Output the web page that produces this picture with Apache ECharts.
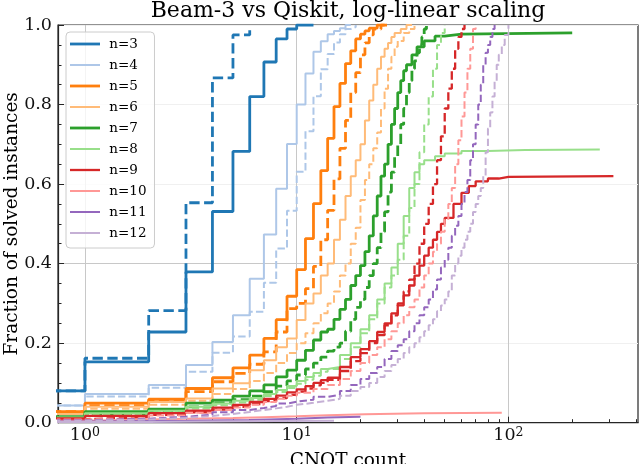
<!DOCTYPE html>
<html>
<head>
<meta charset="utf-8">
<title>Beam-3 vs Qiskit, log-linear scaling</title>
<script src="https://cdn.jsdelivr.net/npm/echarts@6.0.0/dist/echarts.min.js"></script>
<style>
  html, body { margin: 0; padding: 0; background: #fff; }
  #chart { width: 640px; height: 464px; }
</style>
</head>
<body>
<div id="chart"></div>
<script>
// qubit counts, one solid (Beam-3) and one dashed (Qiskit) curve each
var qubits = [3, 4, 5, 6, 7, 8, 9, 10, 11, 12];

// [CNOT count, fraction solved], step after each point
var b3 = [[0.5,0.08],[1,0.153],[2,0.228],[3,0.379],[4,0.531],[5,0.682],[6,0.82],[7,0.907],[8,0.965],[9,0.99],[10,1],[12,1]];
var q3 = [[0.5,0.08],[1,0.162],[2,0.282],[3,0.553],[4,0.867],[5,0.975],[6,0.99]];

var b4 = [[0.5,0.043],[1,0.072],[2,0.095],[3,0.145],[4,0.203],[5,0.27],[6,0.362],[7,0.473],[8,0.588],[9,0.701],[10,0.8],[11,0.878],[12,0.933],[13,0.959],[14,0.977],[15,0.985],[16,0.992],[17,1],[18,1]];
var q4 = [[0.5,0.043],[1,0.066],[2,0.088],[3,0.128],[4,0.176],[5,0.217],[6,0.279],[7,0.352],[8,0.438],[9,0.533],[10,0.631],[11,0.733],[12,0.821],[13,0.889],[14,0.927],[15,0.956],[16,0.977],[17,0.99],[18,0.995],[19,1]];

var b5 = [[0.5,0.028],[1,0.049],[2,0.059],[3,0.086],[4,0.113],[5,0.138],[6,0.17],[7,0.212],[8,0.259],[9,0.318],[10,0.385],[11,0.463],[12,0.551],[13,0.634],[14,0.715],[15,0.795],[16,0.853],[17,0.903],[18,0.935],[19,0.965],[20,0.977],[21,0.985],[22,0.992],[24,1],[26,1]];
var q5 = [[0.5,0.028],[1,0.043],[2,0.055],[3,0.078],[4,0.103],[5,0.124],[6,0.147],[7,0.178],[8,0.228],[9,0.287],[10,0.3],[11,0.337],[12,0.393],[13,0.46],[14,0.534],[15,0.613],[16,0.69],[17,0.76],[18,0.83],[19,0.88],[20,0.925],[21,0.955],[22,0.975],[23,0.99],[25,1],[27,1]];

var b6 = [[0.5,0.022],[1,0.04],[2,0.052],[3,0.061],[4,0.086],[5,0.099],[6,0.132],[7,0.157],[8,0.19],[9,0.212],[10,0.258],[11,0.3],[12,0.325],[13,0.37],[14,0.4],[15,0.46],[16,0.51],[17,0.57],[18,0.62],[19,0.66],[20,0.7],[21,0.76],[22,0.81],[23,0.85],[24,0.89],[25,0.92],[26,0.94],[27,0.955],[28,0.97],[29,0.98],[31,0.99],[33,1],[35,1]];
var q6 = [[0.5,0.022],[1,0.035],[2,0.045],[3,0.055],[4,0.072],[5,0.085],[6,0.105],[7,0.125],[8,0.15],[9,0.175],[10,0.2],[11,0.225],[12,0.25],[13,0.275],[14,0.3],[15,0.33],[16,0.37],[17,0.4],[18,0.45],[19,0.49],[20,0.56],[21,0.61],[22,0.65],[23,0.69],[24,0.73],[25,0.79],[26,0.84],[27,0.89],[28,0.92],[29,0.945],[30,0.96],[32,0.98],[34,0.99],[36,1]];

var b7 = [[0.5,0.015],[1,0.028],[2,0.034],[3,0.049],[4,0.057],[5,0.067],[6,0.08],[7,0.095],[8,0.115],[9,0.132],[10,0.157],[11,0.182],[12,0.208],[13,0.228],[14,0.235],[15,0.26],[16,0.285],[17,0.31],[18,0.345],[19,0.37],[20,0.395],[21,0.43],[22,0.47],[23,0.52],[24,0.57],[25,0.62],[26,0.65],[27,0.7],[28,0.75],[29,0.79],[30,0.83],[31,0.86],[32,0.885],[33,0.9],[35,0.925],[37,0.945],[40,0.96],[45,0.972],[50,0.977],[60,0.98],[200,0.98]];
var q7 = [[0.5,0.013],[1,0.022],[2,0.03],[3,0.04],[4,0.05],[5,0.058],[6,0.067],[7,0.078],[8,0.092],[9,0.105],[10,0.12],[11,0.135],[12,0.15],[13,0.165],[14,0.18],[15,0.19],[16,0.2],[17,0.23],[18,0.26],[19,0.29],[20,0.31],[21,0.34],[22,0.37],[23,0.4],[24,0.44],[25,0.48],[26,0.53],[27,0.58],[28,0.63],[29,0.67],[30,0.7],[31,0.75],[32,0.79],[33,0.83],[34,0.86],[35,0.89],[36,0.91],[37,0.93],[38,0.95],[39,0.97],[40,0.99],[41,1]];

var b8 = [[0.5,0.013],[1,0.024],[2,0.03],[3,0.04],[4,0.048],[5,0.055],[6,0.062],[7,0.072],[8,0.082],[9,0.092],[10,0.105],[11,0.115],[12,0.125],[13,0.135],[14,0.14],[16,0.17],[18,0.2],[20,0.235],[22,0.27],[24,0.31],[26,0.35],[28,0.39],[30,0.45],[32,0.52],[34,0.59],[36,0.63],[38,0.65],[40,0.66],[45,0.67],[50,0.677],[60,0.683],[80,0.686],[120,0.687],[270,0.687]];
var q8 = [[0.5,0.012],[1,0.02],[2,0.026],[3,0.036],[4,0.044],[5,0.051],[6,0.058],[7,0.067],[8,0.077],[9,0.087],[10,0.098],[11,0.108],[12,0.118],[13,0.128],[14,0.135],[16,0.16],[18,0.19],[20,0.225],[22,0.26],[24,0.3],[26,0.34],[28,0.37],[30,0.41],[32,0.47],[34,0.54],[36,0.6],[38,0.68],[40,0.75],[42,0.82],[44,0.89],[46,0.95],[48,0.98],[50,1]];

var b9 = [[0.5,0.011],[1,0.017],[2,0.024],[3,0.03],[4,0.038],[5,0.045],[6,0.052],[7,0.06],[8,0.068],[9,0.076],[10,0.084],[11,0.092],[12,0.1],[13,0.107],[14,0.113],[16,0.14],[18,0.165],[20,0.185],[22,0.205],[24,0.228],[26,0.25],[28,0.275],[30,0.3],[32,0.32],[34,0.345],[36,0.37],[38,0.395],[40,0.42],[42,0.44],[44,0.46],[46,0.48],[48,0.5],[50,0.515],[55,0.55],[60,0.578],[65,0.595],[70,0.607],[80,0.614],[90,0.618],[100,0.62],[313,0.621]];
var q9 = [[0.5,0.009],[1,0.014],[2,0.02],[3,0.026],[4,0.033],[5,0.04],[6,0.047],[7,0.054],[8,0.062],[9,0.07],[10,0.078],[11,0.086],[12,0.094],[13,0.1],[14,0.108],[16,0.13],[18,0.155],[20,0.175],[22,0.2],[24,0.22],[26,0.245],[28,0.27],[30,0.295],[32,0.33],[34,0.36],[36,0.4],[38,0.45],[40,0.5],[42,0.55],[44,0.6],[46,0.66],[48,0.72],[50,0.79],[52,0.84],[54,0.89],[56,0.94],[58,0.97],[60,0.99],[62,1]];

var b10 = [[0.5,0.005],[1,0.008],[2,0.01],[3,0.012],[5,0.014],[7,0.016],[10,0.019],[14,0.021],[21,0.024],[40,0.025],[93,0.025]];
var q10 = [[0.5,0.008],[1,0.012],[2,0.018],[3,0.025],[4,0.032],[5,0.038],[6,0.045],[7,0.052],[8,0.06],[9,0.068],[10,0.075],[12,0.085],[14,0.095],[16,0.11],[18,0.13],[20,0.15],[22,0.17],[24,0.19],[26,0.21],[28,0.23],[30,0.25],[32,0.27],[34,0.29],[36,0.31],[38,0.34],[40,0.37],[42,0.4],[44,0.43],[46,0.45],[48,0.48],[50,0.51],[52,0.55],[54,0.59],[56,0.65],[58,0.71],[60,0.77],[62,0.83],[64,0.89],[66,0.94],[68,0.99],[70,1]];

var b11 = [[0.5,0.003],[1,0.005],[3,0.007],[6,0.01],[10,0.013],[14,0.015],[20,0.015]];
var q11 = [[0.5,0.006],[1,0.01],[2,0.015],[3,0.02],[4,0.026],[5,0.032],[6,0.037],[7,0.042],[8,0.048],[9,0.053],[10,0.058],[12,0.065],[14,0.07],[16,0.08],[18,0.095],[20,0.11],[22,0.125],[24,0.14],[26,0.16],[28,0.18],[30,0.195],[32,0.21],[34,0.23],[36,0.25],[38,0.27],[40,0.29],[42,0.31],[44,0.335],[46,0.36],[48,0.39],[50,0.41],[52,0.44],[54,0.47],[56,0.495],[58,0.52],[60,0.55],[62,0.58],[64,0.61],[66,0.66],[68,0.7],[70,0.75],[72,0.8],[74,0.85],[76,0.9],[78,0.93],[80,0.95],[82,0.97],[84,0.99],[86,1]];

var b12 = [[0.5,0.002],[2,0.003],[4,0.004],[8,0.005],[15,0.005]];
var q12 = [[0.5,0.005],[1,0.008],[2,0.012],[3,0.017],[4,0.022],[5,0.027],[6,0.032],[7,0.036],[8,0.04],[9,0.045],[10,0.05],[12,0.055],[14,0.06],[16,0.068],[18,0.08],[20,0.09],[22,0.1],[24,0.115],[26,0.13],[28,0.145],[30,0.16],[32,0.175],[34,0.19],[36,0.2],[38,0.215],[40,0.23],[42,0.245],[44,0.26],[46,0.28],[48,0.295],[50,0.31],[52,0.33],[54,0.37],[56,0.4],[58,0.42],[60,0.44],[62,0.46],[64,0.48],[66,0.5],[68,0.53],[70,0.55],[72,0.57],[74,0.59],[76,0.62],[78,0.68],[80,0.74],[82,0.78],[84,0.82],[86,0.86],[88,0.9],[90,0.925],[93,0.95],[96,0.975],[100,1]];

// axis ticks
var xMajor = [1, 10, 100];
var xMinor = [2, 3, 4, 5, 6, 7, 8, 9, 20, 30, 40, 50, 60, 70, 80, 90, 200, 300, 400];

var beam = [b3, b4, b5, b6, b7, b8, b9, b10, b11, b12];
var qiskit = [q3, q4, q5, q6, q7, q8, q9, q10, q11, q12];

var colors = ['#1f77b4', '#aec7e8', '#ff7f0e', '#ffbb78', '#2ca02c',
              '#98df8a', '#d62728', '#ff9896', '#9467bd', '#c5b0d5'];
var widths = [2.8, 2, 2.8, 2, 2.8, 2, 2.3, 2, 2, 2];
var font = 'DejaVu Serif';

var chart = echarts.init(document.getElementById('chart'));

var series = [];
qubits.forEach(function (n, i) {
  var w = widths[i];
  series.push({
    name: 'n=' + n,
    type: 'line',
    data: beam[i],
    step: 'end',
    symbol: 'none',
    showSymbol: false,
    silent: true,
    lineStyle: { color: colors[i], width: w },
    itemStyle: { color: colors[i] }
  });
  series.push({
    name: 'n=' + n + ' qiskit',
    type: 'line',
    data: qiskit[i],
    step: 'end',
    symbol: 'none',
    showSymbol: false,
    silent: true,
    lineStyle: { color: colors[i], width: w, type: [3.7 * w, 1.6 * w] },
    itemStyle: { color: colors[i] }
  });
});

var option = {
  animation: false,
  backgroundColor: '#fff',
  title: {
    text: 'Beam-3 vs Qiskit, log-linear scaling',
    left: 348,
    textAlign: 'center',
    top: 0,
    padding: 0,
    textStyle: { fontFamily: font, fontSize: 22, fontWeight: 'normal', color: '#000' }
  },
  legend: {
    orient: 'vertical',
    left: 66,
    top: 32,
    itemWidth: 30,
    itemHeight: 10,
    itemGap: 7,
    padding: [5, 8, 8, 4],
    backgroundColor: 'rgba(255,255,255,0.8)',
    borderColor: '#cccccc',
    borderWidth: 1,
    borderRadius: 4,
    formatter: ' {name}',
    textStyle: { fontFamily: font, fontSize: 13.5, color: '#000' },
    data: qubits.map(function (n, i) {
      return { name: 'n=' + n, icon: 'path://M0,0L30,0L30,' + widths[i] + 'L0,' + widths[i] + 'Z' };
    })
  },
  grid: {
    left: 58, right: 2, top: 25, bottom: 41.3,
    show: true,
    borderColor: '#262626',
    borderWidth: 1.2,
    containLabel: false,
    outerBoundsMode: 'none'
  },
  xAxis: [{
    type: 'log',
    logBase: 10,
    min: 0.746,
    max: 409,
    name: 'CNOT count',
    nameLocation: 'middle',
    nameGap: 29,
    nameMoveOverlap: false,
    nameTextStyle: { fontFamily: font, fontSize: 18.5, color: '#000' },
    axisLine: { lineStyle: { color: '#262626', width: 1.2 } },
    axisTick: { inside: true, length: 6, customValues: xMajor, lineStyle: { color: '#262626' } },
    axisLabel: {
      customValues: xMajor,
      margin: 4,
      formatter: function (v) {
        var e = Math.round(Math.log10(v));
        if (Math.abs(Math.log10(v) - e) > 1e-6) return '';
        return '{b|10}{s|' + e + '}';
      },
      rich: {
        b: { fontFamily: font, fontSize: 17.5, color: '#111' },
        s: { fontFamily: font, fontSize: 12.5, color: '#111', verticalAlign: 'top' }
      }
    },
    splitLine: { show: true, lineStyle: { color: '#c8c8c8', width: 1 } }
  }, {
    type: 'log',
    logBase: 10,
    min: 0.746,
    max: 409,
    position: 'bottom',
    axisLine: { show: false },
    axisLabel: { show: false },
    splitLine: { show: false },
    axisTick: { inside: true, length: 3.5, customValues: xMinor, lineStyle: { color: '#262626' } }
  }],
  yAxis: {
    type: 'value',
    min: 0,
    max: 1,
    interval: 0.2,
    name: 'Fraction of solved instances',
    nameLocation: 'middle',
    nameGap: 36,
    nameMoveOverlap: false,
    nameTextStyle: { fontFamily: font, fontSize: 18.5, color: '#000' },
    axisLine: { show: true, lineStyle: { color: '#262626', width: 1.2 } },
    axisTick: { show: true, inside: true, length: 6, lineStyle: { color: '#262626' } },
    minorTick: { show: true, splitNumber: 4, length: 3.5, lineStyle: { color: '#262626' } },
    axisLabel: {
      margin: 6,
      fontFamily: font,
      fontSize: 17.5,
      color: '#111',
      formatter: function (v) { return v.toFixed(1); }
    },
    splitLine: {
      show: true,
      lineStyle: { color: ['#f0f0f0', '#f0f0f0', '#c8c8c8', '#f0f0f0', '#f0f0f0', '#f0f0f0'], width: 1 }
    }
  },
  series: series
};

chart.setOption(option);
window.addEventListener('resize', function () { chart.resize(); });
</script>
</body>
</html>
